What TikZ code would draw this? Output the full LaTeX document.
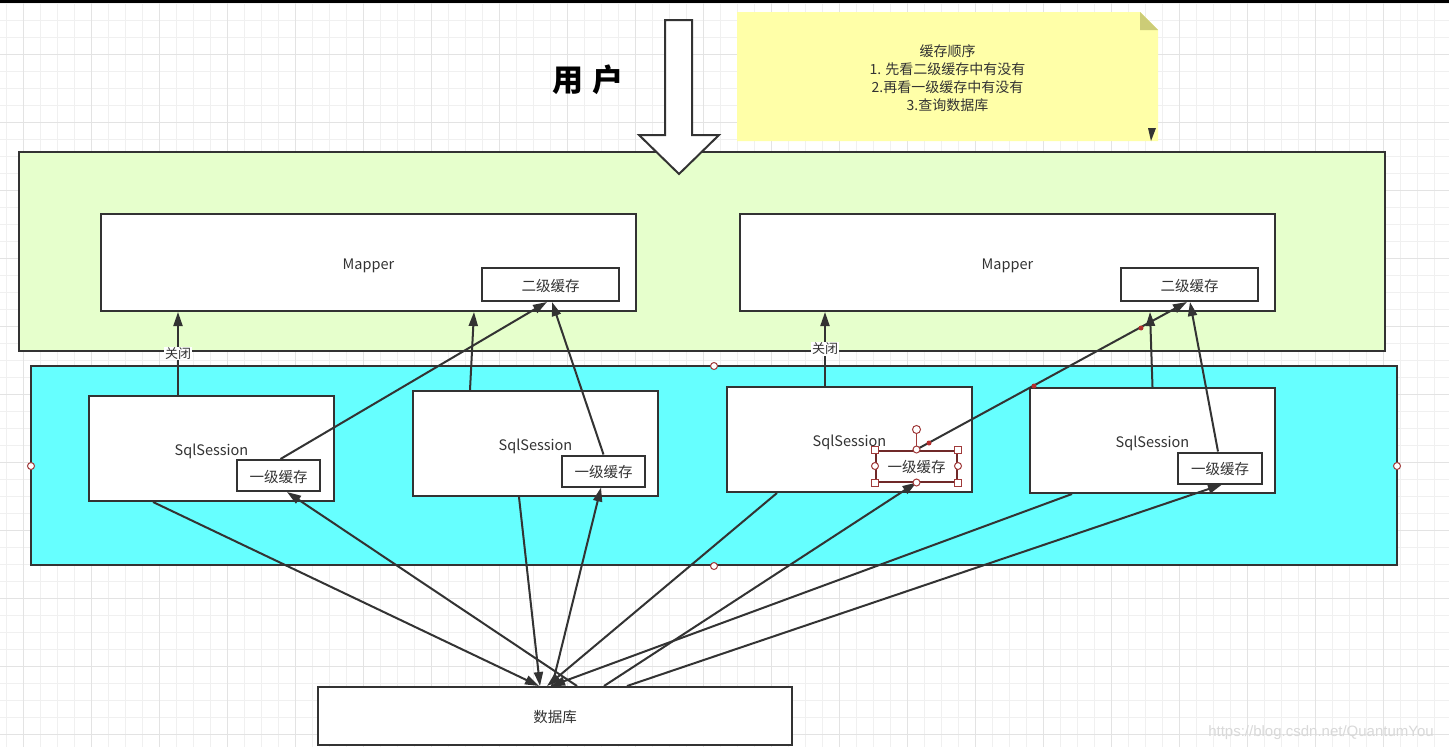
\documentclass[tikz,border=0pt]{standalone}
\usepackage{fontspec}
\setmainfont{Noto Sans CJK SC}
\newfontfamily\wmfont{Liberation Sans}
\usetikzlibrary{arrows.meta,positioning}

\definecolor{ink}{HTML}{333333}
\definecolor{mapbg}{HTML}{E6FFCC}
\definecolor{sessbg}{HTML}{66FFFF}
\definecolor{notebg}{HTML}{FFFFA8}
\definecolor{notefold}{HTML}{CCCC77}
\definecolor{gridmin}{HTML}{F0F0F0}
\definecolor{gridmaj}{HTML}{E3E3E3}
\definecolor{handle}{HTML}{A03A3A}

\tikzset{
  box/.style={draw=ink, line width=2pt, fill=white, inner sep=0pt, text=ink,
    text height=13pt, text depth=0pt, font=\fontsize{14.5}{16}\selectfont},
  mapbox/.style={box, minimum width=535pt, minimum height=97pt},
  sessbox/.style={box, minimum width=245pt, minimum height=105pt},
  cachebox/.style={box, minimum width=83pt, minimum height=31pt},
  l2box/.style={box, minimum width=137pt, minimum height=33pt},
  conn/.style={draw=ink, line width=2pt, -{Triangle[length=14pt,width=9pt]}},
  lbl/.style={fill=white, inner sep=1pt, text=ink, font=\fontsize{13}{15}\selectfont},
  hdl/.style={draw=handle, fill=white, line width=1pt},
  dot/.style={fill=handle!80!red, draw=none}
}

\begin{document}
\begin{tikzpicture}[x=1pt, y=-1pt]
  \useasboundingbox (0,0) rectangle (1449,747);
  \fill[white] (0,0) rectangle (1449,747);

  %grid
  \foreach \gx in {0,...,85} \draw[gridmin, line width=1pt] (6.3+17*\gx,0) -- ++(0,747);
  \foreach \gy in {0,...,43} \draw[gridmin, line width=1pt] (0,3.7+17*\gy) -- ++(1449,0);
  \foreach \gx in {0,...,21} \draw[gridmaj, line width=1pt] (23.3+68*\gx,0) -- ++(0,747);
  \foreach \gy in {0,...,10} \draw[gridmaj, line width=1pt] (0,54.3+68*\gy) -- ++(1449,0);
  \fill[black] (0,0) rectangle (1449,2.5);

  %mapper layer
  \node[draw=ink, line width=2pt, fill=mapbg, minimum width=1366pt, minimum height=199pt,
    inner sep=0pt] (maplayer) at (702,251.5) {};

  %user
  \node[text=black, font=\fontsize{31}{33}\selectfont\bfseries] (user) at (588,80) {用\hspace{9pt}户};
  \draw[draw=ink, line width=2pt, fill=white] (665,20) -- (692,20) -- (692,135) -- (719,135)
    -- (679,174) -- (639,135) -- (665,135) -- cycle;

  %note
  \fill[notebg] (737,12) -- (1140,12) -- (1158,30) -- (1158,141) -- (737,141) -- cycle;
  \fill[notefold] (1140,12) -- (1158,30) -- (1140,30) -- cycle;
  \fill[ink] (1148,128) -- (1156,128) -- (1151,141) -- cycle;
  \node[text=ink, align=center, font=\fontsize{14}{18}\selectfont] (note) at (947.5,78.5)
    {缓存顺序\\1. 先看二级缓存中有没有\\2.再看一级缓存中有没有\\3.查询数据库};

  \node[mapbox] (m1) at (368.5,262.5) {Mapper};
  \node[mapbox] (m2) at (1007.5,262.5) {Mapper};
  \node[l2box] (l2a) at (550.5,284.5) {二级缓存};
  \node[l2box] (l2b) at (1189.5,284.5) {二级缓存};

  %session layer
  \node[draw=ink, line width=2pt, fill=sessbg, minimum width=1366pt, minimum height=199pt,
    inner sep=0pt] (sesslayer) at (714,465.5) {};

  \node[sessbox] (s1) at (211.5,448.5) {SqlSession};
  \node[sessbox] (s2) at (535.5,443.5) {SqlSession};
  \node[sessbox] (s3) at (849.5,439.5) {SqlSession};
  \node[sessbox] (s4) at (1152.5,440.5) {SqlSession};
  \node[cachebox] (c1) at (278.5,475.5) {一级缓存};
  \node[cachebox] (c2) at (603.5,471) {一级缓存};
  \node[cachebox, draw=handle!70!black, minimum width=81pt] (c3) at (916.5,466) {一级缓存};
  \node[cachebox, minimum width=84pt] (c4) at (1220,468) {一级缓存};

  \node[box, minimum width=474pt, minimum height=58pt] (db) at (555,716) {数据库};

  %session -> mapper
  \draw[conn] ([xshift=-33.5pt]s1.north) -- node[lbl] {关闭} ([xshift=-33.5pt]s1.north |- m1.south);
  \draw[conn] ([xshift=-24.5pt]s3.north) -- node[lbl] {关闭} ([xshift=-24.5pt]s3.north |- m2.south);
  \draw[conn] ([xshift=-65.5pt]s2.north) -- ([xshift=105.5pt]m1.south);
  \draw[conn] (s4.north) -- ([xshift=142.5pt]m2.south);
  \draw[conn] ([xshift=2pt]c1.north) -- ([xshift=-3.5pt]l2a.south);
  \draw[conn] (c2.north) -- ([xshift=1.5pt]l2a.south);
  \draw[conn] (c3.north) -- ([xshift=-2.5pt]l2b.south);
  \draw[conn] ([xshift=-2pt]c4.north) -- ([xshift=0.5pt]l2b.south);

  %session <-> db
  \draw[conn] ([xshift=-58.5pt]s1.south) -- ([xshift=222pt]db.north west);
  \draw[conn] ([xshift=260pt]db.north west) -- ([xshift=8.5pt]c1.south);
  \draw[conn] ([xshift=-16.5pt]s2.south) -- ([xshift=223pt]db.north west);
  \draw[conn] ([xshift=235pt]db.north west) -- ([xshift=-2.5pt]c2.south);
  \draw[conn] ([xshift=-72.5pt]s3.south) -- ([xshift=230pt]db.north west);
  \draw[conn] ([xshift=287pt]db.north west) -- (c3.south);
  \draw[conn] ([xshift=-80.5pt]s4.south) -- ([xshift=234pt]db.north west);
  \draw[conn] ([xshift=310pt]db.north west) -- ([xshift=2pt]c4.south);

  %selection handles
  \foreach \hx/\hy in {714/366, 31/466, 1397/466, 714/566} \draw[hdl] (\hx,\hy) circle (3.5);
  \draw[handle, line width=1pt] (c3.north) -- ++(0,-20);
  \draw[hdl] ([yshift=20pt]c3.north) circle (4);
  \foreach \ha in {north west, north east, south west, south east}
    \draw[hdl] ([xshift=-3.5pt, yshift=-3.5pt]c3.\ha) rectangle ++(7,-7);
  \foreach \ha in {north, south, west, east} \draw[hdl] (c3.\ha) circle (3.5);
  \foreach \hx/\hy in {929/443, 1034/386, 1141/328} \fill[dot] (\hx,\hy) circle (2.5);

  %watermark
  \node[text=gray!30, font=\wmfont\fontsize{15}{17}\selectfont] (mark) at (1321,733)
    {https://blog.csdn.net/QuantumYou};
\end{tikzpicture}
\end{document}
